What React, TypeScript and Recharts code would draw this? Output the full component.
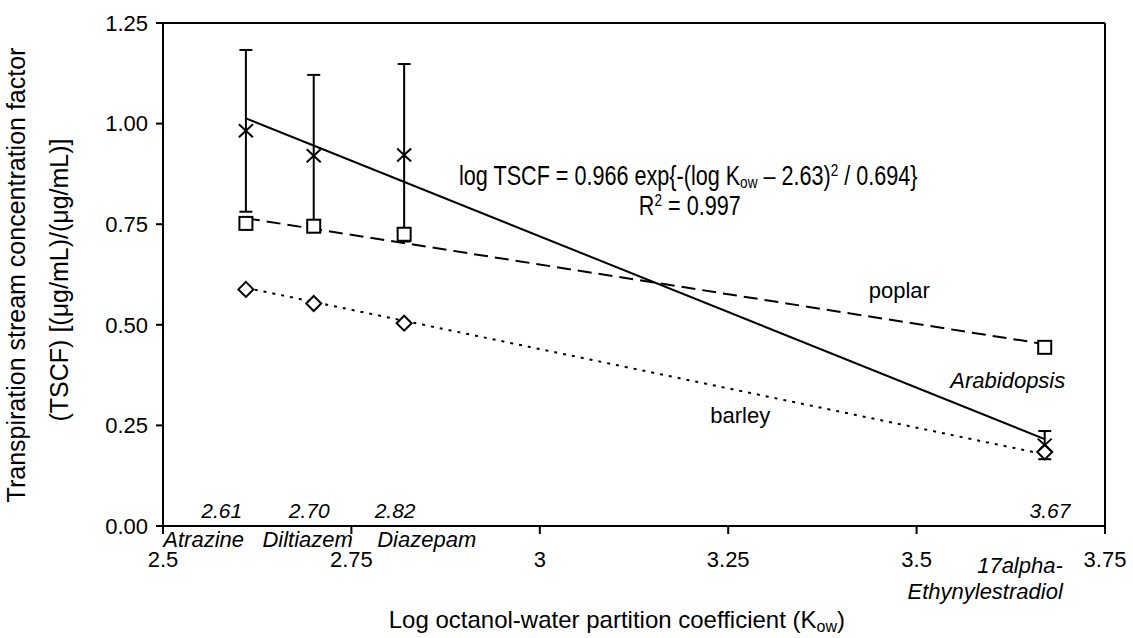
import React from 'react';
import { ComposedChart, XAxis, YAxis, Scatter, Line, ErrorBar, ReferenceLine, ReferenceDot } from 'recharts';

const FONT = '"Liberation Sans", Arial, sans-serif';

// log Kow of the four compounds
const kow = [2.61, 2.7, 2.82, 3.67];
const compounds = ['Atrazine', 'Diltiazem', 'Diazepam'];
const kowLabels = ['2.61', '2.70', '2.82', '3.67'];

// Arabidopsis TSCF (mean, lower / upper error)
const tscf = [0.982, 0.92, 0.922, 0.201];
const tscfErrLow = [0.201, 0.186, 0.215, 0.035];
const tscfErrHigh = [0.201, 0.201, 0.226, 0.035];

// literature curves
const poplar = [0.752, 0.745, 0.725, 0.444];
const barley = [0.588, 0.553, 0.504, 0.184];

// trend lines, values at first and last compound
const fitEnds = [1.013, 0.216];
const poplarTrendEnds = [0.765, 0.452];
const barleyTrendEnds = [0.592, 0.178];

const xTicks = [2.5, 2.75, 3, 3.25, 3.5, 3.75];
const yTicks = [0, 0.25, 0.5, 0.75, 1, 1.25];

const tscfData = kow.map((x, i) => ({ x, y: tscf[i], err: [tscfErrLow[i], tscfErrHigh[i]] }));
const poplarData = kow.map((x, i) => ({ x, y: poplar[i] }));
const barleyData = kow.map((x, i) => ({ x, y: barley[i] }));
const ends = (v: number[]) => [
  { x: kow[0], y: v[0] },
  { x: kow[kow.length - 1], y: v[1] },
];

// where the annotations sit, in axis units
const kowLabelPos = [
  [2.578, 0.02],
  [2.694, 0.02],
  [2.808, 0.02],
  [3.677, 0.02],
];
const compoundPos = [
  [2.554, -0.052],
  [2.692, -0.052],
  [2.85, -0.052],
];

const textShape =
  (text: string, opts: { size?: number; italic?: boolean; anchor?: string } = {}) =>
  (p: any) =>
    (
      <text
        x={p.cx}
        y={p.cy}
        textAnchor={opts.anchor || 'middle'}
        fontSize={opts.size || 22}
        fontStyle={opts.italic ? 'italic' : 'normal'}
        fontFamily={FONT}
        fill="#000"
      >
        {text}
      </text>
    );

const xMark = (p: any) => (
  <path
    d={`M${p.cx - 7},${p.cy - 6.5}L${p.cx + 7},${p.cy + 6.5}M${p.cx - 7},${p.cy + 6.5}L${p.cx + 7},${p.cy - 6.5}`}
    stroke="#000"
    strokeWidth={2}
    fill="none"
  />
);
const squareMark = (p: any) => (
  <rect x={p.cx - 6.5} y={p.cy - 6.5} width={13} height={13} stroke="#000" strokeWidth={2} fill="#fff" />
);
const diamondMark = (p: any) => (
  <path
    d={`M${p.cx},${p.cy - 7.5}L${p.cx + 7.5},${p.cy}L${p.cx},${p.cy + 7.5}L${p.cx - 7.5},${p.cy}Z`}
    stroke="#000"
    strokeWidth={2}
    fill="#fff"
  />
);

const renderXTick = (p: any) => (
  <text x={p.x} y={p.y + 31} textAnchor="middle" fontSize={22} fontFamily={FONT} fill="#000">
    {p.payload.value}
  </text>
);

// the original uses a narrow face, so squeeze it horizontally
const equationShape = (p: any) => (
  <g transform={`translate(${p.cx},${p.cy}) scale(0.8,1)`}>
    <text x={0} y={0} textAnchor="middle" fontSize={27} fontFamily={FONT} fill="#000">
      log TSCF = 0.966 exp{'{'}-(log K
      <tspan fontSize={17} dy={3}>
        ow
      </tspan>
      <tspan dy={-3}> – 2.63)</tspan>
      <tspan fontSize={17} dy={-9}>
        2
      </tspan>
      <tspan dy={9}> / 0.694{'}'}</tspan>
    </text>
  </g>
);

const r2Shape = (p: any) => (
  <g transform={`translate(${p.cx},${p.cy}) scale(0.8,1)`}>
    <text x={0} y={0} textAnchor="middle" fontSize={27} fontFamily={FONT} fill="#000">
      R
      <tspan fontSize={17} dy={-9}>
        2
      </tspan>
      <tspan dy={9}> = 0.997</tspan>
    </text>
  </g>
);

export default function App() {
  const axisStroke = { stroke: '#000', strokeWidth: 2 };
  return (
    <div style={{ position: 'absolute', left: 0, top: 0, width: 1133, height: 638, background: '#fff' }}>
      <ComposedChart width={1133} height={638} margin={{ top: 23, right: 28, bottom: 0, left: 0 }}>
        <XAxis
          type="number"
          dataKey="x"
          domain={[2.5, 3.75]}
          ticks={xTicks}
          interval={0}
          height={112}
          axisLine={axisStroke}
          tickLine={axisStroke}
          tickSize={8}
          tick={renderXTick}
        />
        <YAxis
          type="number"
          domain={[0, 1.25]}
          ticks={yTicks}
          interval={0}
          width={163}
          axisLine={axisStroke}
          tickLine={axisStroke}
          tickSize={7}
          tickMargin={8}
          tickFormatter={(v: number) => v.toFixed(2)}
          tick={{ fontSize: 22, fill: '#000', fontFamily: FONT }}
        />
        <ReferenceLine y={1.25} stroke="#000" strokeWidth={2} />
        <ReferenceLine x={3.75} stroke="#000" strokeWidth={2} />

        <Line data={ends(barleyTrendEnds)} dataKey="y" type="linear" stroke="#000" strokeWidth={2} strokeDasharray="3 6" dot={false} activeDot={false} isAnimationActive={false} />
        <Line data={ends(poplarTrendEnds)} dataKey="y" type="linear" stroke="#000" strokeWidth={2} strokeDasharray="14 7" dot={false} activeDot={false} isAnimationActive={false} />
        <Line data={ends(fitEnds)} dataKey="y" type="linear" stroke="#000" strokeWidth={2} dot={false} activeDot={false} isAnimationActive={false} />

        <Scatter data={barleyData} dataKey="y" shape={diamondMark} isAnimationActive={false} />
        <Scatter data={poplarData} dataKey="y" shape={squareMark} isAnimationActive={false} />
        <Scatter data={tscfData} dataKey="y" shape={xMark} isAnimationActive={false}>
          <ErrorBar dataKey="err" direction="y" width={6.5} stroke="#000" strokeWidth={2} isAnimationActive={false} />
        </Scatter>

        {kowLabels.map((t, i) => (
          <ReferenceDot key={t} x={kowLabelPos[i][0]} y={kowLabelPos[i][1]} ifOverflow="visible" shape={textShape(t, { italic: true, size: 21 })} />
        ))}
        {compounds.map((t, i) => (
          <ReferenceDot key={t} x={compoundPos[i][0]} y={compoundPos[i][1]} ifOverflow="visible" shape={textShape(t, { italic: true, size: 22 })} />
        ))}
        <ReferenceDot x={3.694} y={-0.117} ifOverflow="visible" shape={textShape('17alpha-', { italic: true, anchor: 'end' })} />
        <ReferenceDot x={3.694} y={-0.181} ifOverflow="visible" shape={textShape('Ethynylestradiol', { italic: true, anchor: 'end' })} />
        <ReferenceDot x={3.477} y={0.567} ifOverflow="visible" shape={textShape('poplar')} />
        <ReferenceDot x={3.266} y={0.256} ifOverflow="visible" shape={textShape('barley')} />
        <ReferenceDot x={3.621} y={0.343} ifOverflow="visible" shape={textShape('Arabidopsis', { italic: true })} />
        <ReferenceDot x={3.197} y={0.847} ifOverflow="visible" shape={equationShape} />
        <ReferenceDot x={3.199} y={0.773} ifOverflow="visible" shape={r2Shape} />
      </ComposedChart>

      <svg width={1133} height={638} style={{ position: 'absolute', left: 0, top: 0, pointerEvents: 'none' }}>
        <g fontFamily={FONT} fontSize={25} fill="#000" textAnchor="middle">
          <text x={25} y={275} transform="rotate(-90 25 275)">
            Transpiration stream concentration factor
          </text>
          <text x={68} y={280} transform="rotate(-90 68 280)">
            (TSCF) [(μg/mL)/(μg/mL)]
          </text>
        </g>
        <text x={845} y={628} textAnchor="end" fontFamily={FONT} fontSize={24} fill="#000">
          Log octanol-water partition coefficient (K
          <tspan fontSize={16} dy={4}>
            ow
          </tspan>
          <tspan dy={-4}>)</tspan>
        </text>
      </svg>
    </div>
  );
}
